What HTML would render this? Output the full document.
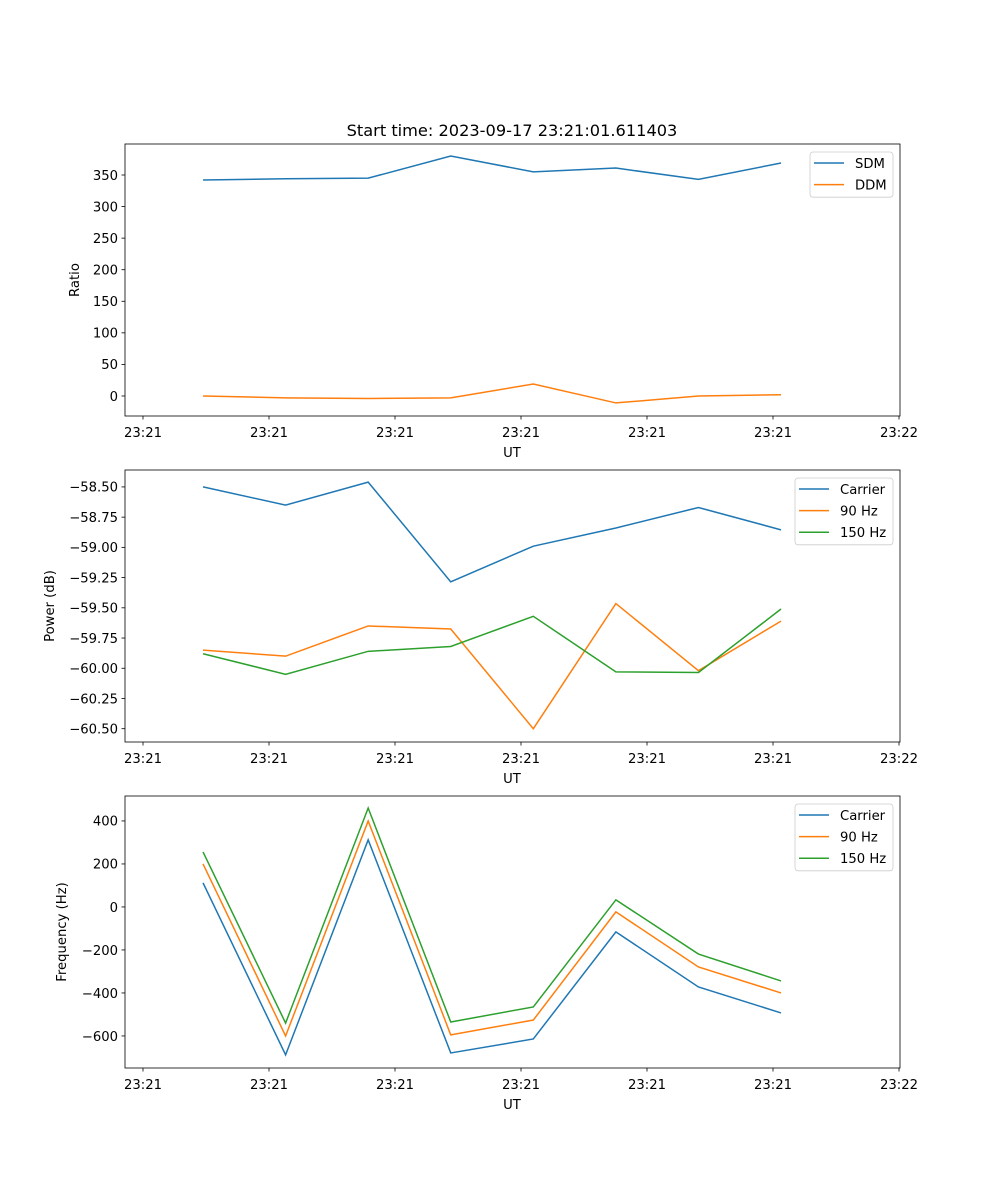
<!DOCTYPE html>
<html><head><meta charset="utf-8"><style>
body{margin:0;background:#fff}
svg{display:block;font-family:"DejaVu Sans","Liberation Sans",sans-serif}
</style></head><body>
<svg id="fig" width="1000" height="1200" xmlns="http://www.w3.org/2000/svg">
<rect width="1000" height="1200" fill="#fff"/>
<text x="512" y="136" font-size="16.2" text-anchor="middle">Start time: 2023-09-17 23:21:01.611403</text>
</svg>
<script>
const sampleTimes=[0,1,2,3,4,5,6,7];
const xTickValues=[-0.727,0.799,2.325,3.851,5.377,6.903,8.429];
const xTickLabels=["23:21","23:21","23:21","23:21","23:21","23:21","23:22"];
const sdm=[342,344,345,380,355,361,343,369];
const ddm=[0,-3,-4,-3,19,-11,0,2];
const ratioTicks=[0,50,100,150,200,250,300,350];
const carrierPower=[-58.5,-58.65,-58.46,-59.285,-58.99,-58.84,-58.67,-58.855];
const hz90Power=[-59.85,-59.90,-59.65,-59.675,-60.5,-59.465,-60.02,-59.61];
const hz150Power=[-59.88,-60.05,-59.86,-59.82,-59.57,-60.03,-60.035,-59.51];
const powerTicks=[-58.5,-58.75,-59.0,-59.25,-59.5,-59.75,-60.0,-60.25,-60.5];
const carrierFreq=[112,-688,312,-679,-614,-116,-372,-493];
const hz90Freq=[200,-600,400,-595,-526,-23,-279,-400];
const hz150Freq=[256,-540,460,-535,-465,33,-219,-344];
const freqTicks=[400,200,0,-200,-400,-600];

const NS="http://www.w3.org/2000/svg";
const svg=document.getElementById('fig');
function mk(tag,attrs,parent){const e=document.createElementNS(NS,tag);for(const k in attrs)e.setAttribute(k,attrs[k]);(parent||svg).appendChild(e);return e;}
const L=125,R=900,xmin=-0.945,xmax=8.441;
const xs=v=>L+(v-xmin)/(xmax-xmin)*(R-L);
const C={b:'#1f77b4',o:'#ff7f0e',g:'#2ca02c'};
const FS=13.2;

function panel(top,ymin,ymax,ticks,fmt,ylabel,ylabX,series,legX,legW,pname){
  const bot=top+272;
  const ys=v=>bot-(v-ymin)/(ymax-ymin)*272;
  const g=mk('g',{});
  
  
  series.forEach(s=>{
    const pts=s.vals.map((v,i)=>xs(sampleTimes[i]).toFixed(2)+','+ys(v).toFixed(2)).join(' ');
    const p=mk('polyline',{points:pts,fill:'none',stroke:s.c,'stroke-width':1.5},g);
    
    
  });
  const fr=mk('rect',{x:L,y:top,width:R-L,height:272,fill:'none',stroke:'#000','stroke-width':0.8},g);
  
  
  xTickValues.forEach((v,i)=>{
    const x=xs(v);
    mk('line',{x1:x,x2:x,y1:bot,y2:bot+3.5,stroke:'#000','stroke-width':0.8},g);
    const t=mk('text',{x:x,y:bot+21,'font-size':FS,'text-anchor':'middle'},g);
    t.textContent=xTickLabels[i];
    
    
  });
  ticks.forEach(v=>{
    const y=ys(v);
    mk('line',{x1:L,x2:L-3.5,y1:y,y2:y,stroke:'#000','stroke-width':0.8},g);
    const t=mk('text',{x:L-7,y:y+4.8,'font-size':FS,'text-anchor':'end'},g);
    t.textContent=fmt(v);
    
    
  });
  const xl=mk('text',{x:512,y:bot+41,'font-size':FS,'text-anchor':'middle'},g);
  xl.textContent='UT';
  
  
  const yl=mk('text',{x:ylabX,y:top+136,'font-size':FS,'text-anchor':'middle',transform:`rotate(-90 ${ylabX} ${top+136})`},g);
  yl.textContent=ylabel;
  
  
  const lg=mk('g',{},g);
  
  
  mk('rect',{x:legX,y:top+8,width:legW,height:21.6*series.length+2,rx:3,fill:'#fff','fill-opacity':0.8,stroke:'#ccc','stroke-width':0.8},lg);
  series.forEach((s,i)=>{
    const y=top+19+i*21.6;
    mk('line',{x1:legX+4,x2:legX+34,y1:y,y2:y,stroke:s.c,'stroke-width':1.5},lg);
    const t=mk('text',{x:legX+45,y:y+4.8,'font-size':FS},lg);
    t.textContent=s.label;
    
    
  });
}
panel(144,-31.7,399.1,ratioTicks,v=>String(v),'Ratio',79,
 [{vals:sdm,c:C.b,n:'sdm',label:'SDM'},{vals:ddm,c:C.o,n:'ddm',label:'DDM'}],810,83,'ratio-panel');
panel(470,-60.61,-58.36,powerTicks,v=>'\u2212'+Math.abs(v).toFixed(2),'Power (dB)',54,
 [{vals:carrierPower,c:C.b,n:'carrier-power',label:'Carrier'},{vals:hz90Power,c:C.o,n:'hz90-power',label:'90 Hz'},{vals:hz150Power,c:C.g,n:'hz150-power',label:'150 Hz'}],795,98,'power-panel');
panel(796,-749,516,freqTicks,v=>(v<0?'\u2212':'')+Math.abs(v),'Frequency (Hz)',66,
 [{vals:carrierFreq,c:C.b,n:'carrier-freq',label:'Carrier'},{vals:hz90Freq,c:C.o,n:'hz90-freq',label:'90 Hz'},{vals:hz150Freq,c:C.g,n:'hz150-freq',label:'150 Hz'}],795,98,'frequency-panel');
</script>
</body></html>
